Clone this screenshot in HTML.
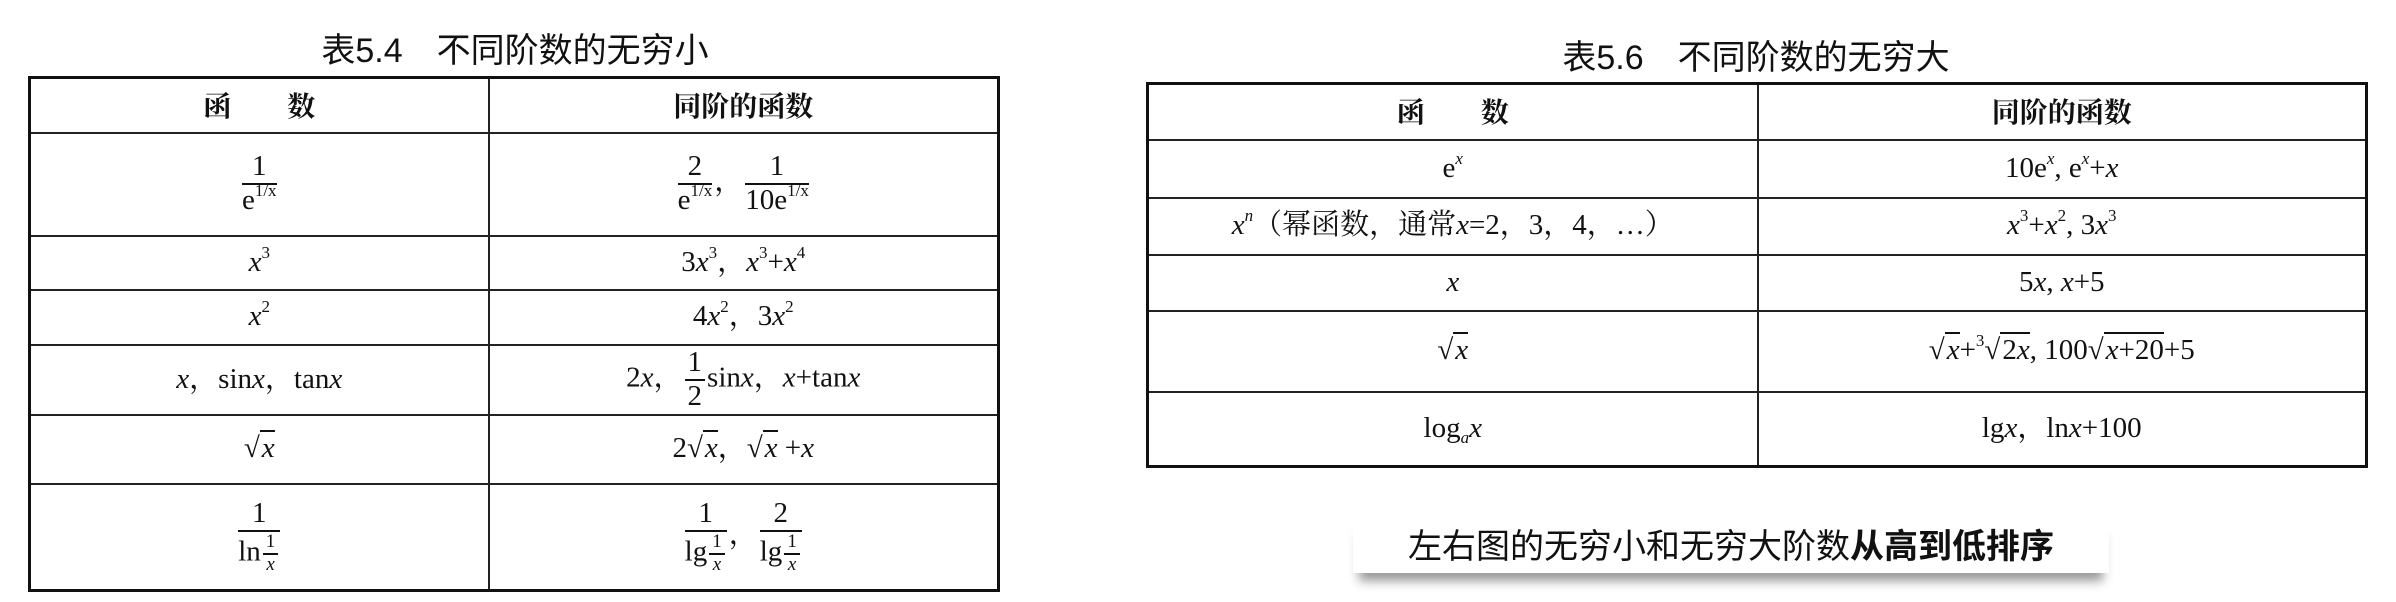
<!DOCTYPE html>
<html><head><meta charset="utf-8"><style>
body{margin:0;width:2396px;height:602px;background:#fff;position:relative;overflow:hidden;font-family:"Liberation Serif","Noto Serif CJK SC",serif;color:#111}
.t{position:absolute;font-family:"Liberation Sans","Noto Sans CJK SC",sans-serif;font-size:34px;white-space:pre;transform:translateX(-50%)}
table{position:absolute;border-collapse:collapse;border:3px solid #111}
td{border:2px solid #222;text-align:center;vertical-align:middle;font-size:29px;padding:0;line-height:1.1}
.h td{font-family:"Noto Serif CJK SC",serif;font-weight:bold;font-size:28px}
i{font-style:italic}
sup{font-size:17px;vertical-align:13px;line-height:0}
sub{font-size:17px;vertical-align:-6px;line-height:0}
.f{display:inline-flex;flex-direction:column;vertical-align:middle;text-align:center;margin:0 2px}
.f>span:first-child{border-bottom:2px solid #111;padding:0 3px}
.sq{border-top:2px solid #111;padding-left:2px}
.cap{position:absolute;left:1353px;top:515px;width:756px;height:58px;background:#fff;box-shadow:0 14px 10px -6px #999;font-family:"Noto Sans CJK SC",sans-serif;font-size:34px;line-height:58px;text-align:center}
</style></head><body>
<div class="t" style="left:515px;top:23px">表5.4　不同阶数的无穷小</div>
<table style="left:28px;top:76px;width:972px">
<colgroup><col style="width:459px"><col></colgroup>
<tr class="h" style="height:55px"><td>函　　数</td><td>同阶的函数</td></tr>
<tr style="height:103px"><td><span class="f"><span>1</span><span>e<sup>1/x</sup></span></span></td><td><span class="f"><span>2</span><span>e<sup>1/x</sup></span></span>，<span class="f"><span>1</span><span>10e<sup>1/x</sup></span></span></td></tr>
<tr style="height:54px"><td><i>x</i><sup>3</sup></td><td>3<i>x</i><sup>3</sup>，<i>x</i><sup>3</sup>+<i>x</i><sup>4</sup></td></tr>
<tr style="height:55px"><td><i>x</i><sup>2</sup></td><td>4<i>x</i><sup>2</sup>，3<i>x</i><sup>2</sup></td></tr>
<tr style="height:70px"><td><i>x</i>，sin<i>x</i>，tan<i>x</i></td><td>2<i>x</i>，<span class="f"><span>1</span><span>2</span></span>sin<i>x</i>，<i>x</i>+tan<i>x</i></td></tr>
<tr style="height:69px"><td>√<span class="sq"><i>x</i></span></td><td>2√<span class="sq"><i>x</i></span>，√<span class="sq"><i>x</i></span> +<i>x</i></td></tr>
<tr style="height:107px"><td><span class="f"><span>1</span><span>ln<span class="f" style="font-size:19px"><span>1</span><span><i>x</i></span></span></span></span></td><td><span class="f"><span>1</span><span>lg<span class="f" style="font-size:19px"><span>1</span><span><i>x</i></span></span></span></span>，<span class="f"><span>2</span><span>lg<span class="f" style="font-size:19px"><span>1</span><span><i>x</i></span></span></span></span></td></tr>
</table>
<div class="t" style="left:1756px;top:30px">表5.6　不同阶数的无穷大</div>
<table style="left:1146px;top:82px;width:1222px">
<colgroup><col style="width:610px"><col></colgroup>
<tr class="h" style="height:56px"><td>函　　数</td><td>同阶的函数</td></tr>
<tr style="height:58px"><td>e<sup><i>x</i></sup></td><td>10e<sup><i>x</i></sup>, e<sup><i>x</i></sup>+<i>x</i></td></tr>
<tr style="height:57px"><td><i>x</i><sup><i>n</i></sup>（幂函数，通常<i>x</i>=2，3，4，…）</td><td><i>x</i><sup>3</sup>+<i>x</i><sup>2</sup>, 3<i>x</i><sup>3</sup></td></tr>
<tr style="height:56px"><td><i>x</i></td><td>5<i>x</i>, <i>x</i>+5</td></tr>
<tr style="height:81px"><td>√<span class="sq"><i>x</i></span></td><td>√<span class="sq"><i>x</i></span>+<sup>3</sup>√<span class="sq">2<i>x</i></span>, 100√<span class="sq"><i>x</i>+20</span>+5</td></tr>
<tr style="height:75px"><td>log<sub><i>a</i></sub><i>x</i></td><td>lg<i>x</i>，ln<i>x</i>+100</td></tr>
</table>
<div class="cap">左右图的无穷小和无穷大阶数<b>从高到低排序</b></div>
</body></html>
